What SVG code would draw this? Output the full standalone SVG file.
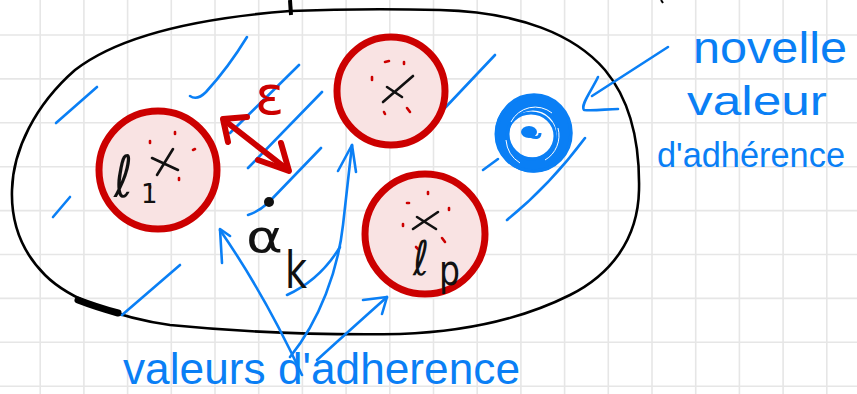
<svg xmlns="http://www.w3.org/2000/svg" width="857" height="394" viewBox="0 0 857 394">
<defs>
<style>
.grid{stroke:#e6e6e6;stroke-width:1.6;fill:none}
.bnd{fill:none;stroke:#000;stroke-width:2.6;stroke-linecap:round}
.rc{fill:#f9e3e3;stroke:#cc0000;stroke-width:7}
.blue{fill:none;stroke:#0a7ff5;stroke-width:2.6;stroke-linecap:round;stroke-linejoin:round}
.red{fill:none;stroke:#cc0000;stroke-width:6;stroke-linecap:round;stroke-linejoin:round}
.cross{stroke:#111;stroke-width:2.6;stroke-linecap:round;fill:none}
.rd{fill:none;stroke:#cc0000;stroke-width:2.6;stroke-linecap:round}
.bt{font-family:"Liberation Sans",Arial,sans-serif;fill:#0a7ff5}
.kt{font-family:"DejaVu Sans",sans-serif;fill:#111}
</style>
</defs>
<rect width="857" height="394" fill="#fff"/>
<g id="grid">
<path class="grid" d="M-3.5,0V394M40.2,0V394M83.9,0V394M127.6,0V394M171.3,0V394M215,0V394M258.7,0V394M302.4,0V394M346.1,0V394M389.8,0V394M433.5,0V394M477.2,0V394M520.9,0V394M564.6,0V394M608.3,0V394M652,0V394M695.7,0V394M739.4,0V394M783.1,0V394M826.8,0V394M0,35H857M0,78.9H857M0,122.8H857M0,166.7H857M0,210.6H857M0,254.5H857M0,298.4H857M0,342.3H857M0,386.2H857"/>
</g>
<g id="boundary">
<path class="bnd" d="M290,11 C340,9 400,9 440,10 C520,12 575,35 605,70 C630,100 640,140 639,190 C638,240 610,275 570,295 C520,320 460,332 400,334 C330,335 250,333 170,325 C120,318 70,300 45,275 C20,250 11,220 12,190 C13,150 35,105 75,70 C120,35 200,18 290,11 Z"/>
<path d="M78,300 Q96,307 118,313" fill="none" stroke="#000" stroke-width="7" stroke-linecap="round"/>
<path d="M290,0 L291,15" fill="none" stroke="#000" stroke-width="4"/>
<path d="M661,0 L663,3" fill="none" stroke="#000" stroke-width="2"/>
</g>
<g id="hatching">
<path class="blue" d="M56,123 L97,87"/>
<path class="blue" d="M190,96 Q197,101 206,92 Q228,68 247,37"/>
<path class="blue" d="M299,65 L230,133"/>
<path class="blue" d="M322,92 L248,168"/>
<path class="blue" d="M321,148 L268,203 Q258,212 248,215"/>
<path class="blue" d="M53,217 L70,197"/>
<path class="blue" d="M122,315 L180,265"/>
<path class="blue" d="M443,110 L495,55"/>
<path class="blue" d="M483,170 L498,159"/>
<path class="blue" d="M507,220 Q550,185 585,138"/>
<path class="blue" d="M287,295 Q320,280 340,247"/>
</g>
<g id="circle-l1">
<circle class="rc" cx="158" cy="170" r="59"/>
<path class="cross" d="M152,158 L178,170 M157,175 L173,149"/>
<g class="rd"><path d="M150,141 L150,143"/><path d="M175,132 L175,134"/><path d="M193,150 L195,149"/><path d="M179,178 L179,180"/><path d="M150,186 L150,188"/></g>
<text class="kt" x="114" y="197" font-size="58" textLength="19" lengthAdjust="spacingAndGlyphs">ℓ</text>
<text class="kt" x="141" y="203" font-size="26">1</text>
</g>
<g id="circle-2">
<circle class="rc" cx="391" cy="91" r="54"/>
<path class="cross" d="M383,102 L413,76 M387,87 L402,97"/>
<g class="rd"><path d="M385,62 L389,61"/><path d="M404,62 L404,64"/><path d="M372,77 L372,80"/><path d="M384,112 L385,114"/><path d="M407,108 L410,112"/></g>
</g>
<g id="circle-lp">
<circle class="rc" cx="425" cy="234" r="60"/>
<path class="cross" d="M417,217 L436,229 M413,229 L438,212"/>
<g class="rd"><path d="M407,203 L409,203"/><path d="M428,192 L428,194"/><path d="M449,208 L449,210"/><path d="M403,224 L403,226"/><path d="M416,247 L418,249"/><path d="M442,238 L445,242"/></g>
<text class="kt" x="413" y="275" font-size="48" textLength="16" lengthAdjust="spacingAndGlyphs">ℓ</text>
<text class="kt" x="439" y="285" font-size="42" textLength="21" lengthAdjust="spacingAndGlyphs">p</text>
</g>
<g id="point-ak">
<circle cx="269" cy="202" r="5" fill="#111"/>
<text class="kt" x="246" y="252" font-size="45" textLength="37" lengthAdjust="spacingAndGlyphs">α</text>
<text class="kt" x="285" y="288" font-size="52" textLength="22" lengthAdjust="spacingAndGlyphs">k</text>
</g>
<g id="new-value">
<circle cx="533" cy="134" r="31" fill="none" stroke="#0a7ff5" stroke-width="15"/>
<ellipse cx="534" cy="133" rx="37" ry="38" fill="none" stroke="#0a7ff5" stroke-width="3.5"/>
<ellipse cx="531" cy="136" rx="24" ry="23" fill="none" stroke="#0a7ff5" stroke-width="3"/>
<path d="M511,122 A27,27 0 0 1 552,113 M558,128 A27,28 0 0 1 545,160 M506,140 A30,30 0 0 0 520,163" fill="none" stroke="#fff" stroke-width="1"/>
<ellipse cx="529" cy="132" rx="8" ry="6" fill="#0a7ff5"/>
<path d="M530,136 Q540,140 540,133" fill="none" stroke="#0a7ff5" stroke-width="3"/>
</g>
<g id="connectors">
<path class="red" d="M224,120 L288,170"/>
<path class="red" d="M247,117 L223,119 L228,142"/>
<path class="red" d="M258,160 L289,171 L281,143"/>
<path class="blue" d="M220,230 Q265,295 302,375"/>
<path class="blue" d="M222,263 L220,229 L230,236"/>
<path class="blue" d="M290,357 C320,320 338,270 343,225 L352,145"/>
<path class="blue" d="M338,171 L352,145 L356,172"/>
<path class="blue" d="M317,360 Q350,330 387,297"/>
<path class="blue" d="M363,300 L387,297 L382,314"/>
<path class="blue" d="M668,47 L592,96"/>
<path class="blue" d="M598,77 C592,90 580,105 584,110 C595,111 607,109 618,109"/>
</g>
<g id="labels">
<text x="255" y="114" font-size="54" font-family="DejaVu Sans, sans-serif" fill="#cc0000">ε</text>
<text class="bt" x="693" y="63" font-size="44" textLength="154" lengthAdjust="spacingAndGlyphs">novelle</text>
<text class="bt" x="687" y="115" font-size="40" textLength="140" lengthAdjust="spacingAndGlyphs">valeur</text>
<text class="bt" x="657" y="167" font-size="35" textLength="188" lengthAdjust="spacingAndGlyphs">d'adhérence</text>
<text class="bt" x="123" y="384" font-size="44" textLength="397" lengthAdjust="spacingAndGlyphs">valeurs d'adherence</text>
</g>
</svg>
